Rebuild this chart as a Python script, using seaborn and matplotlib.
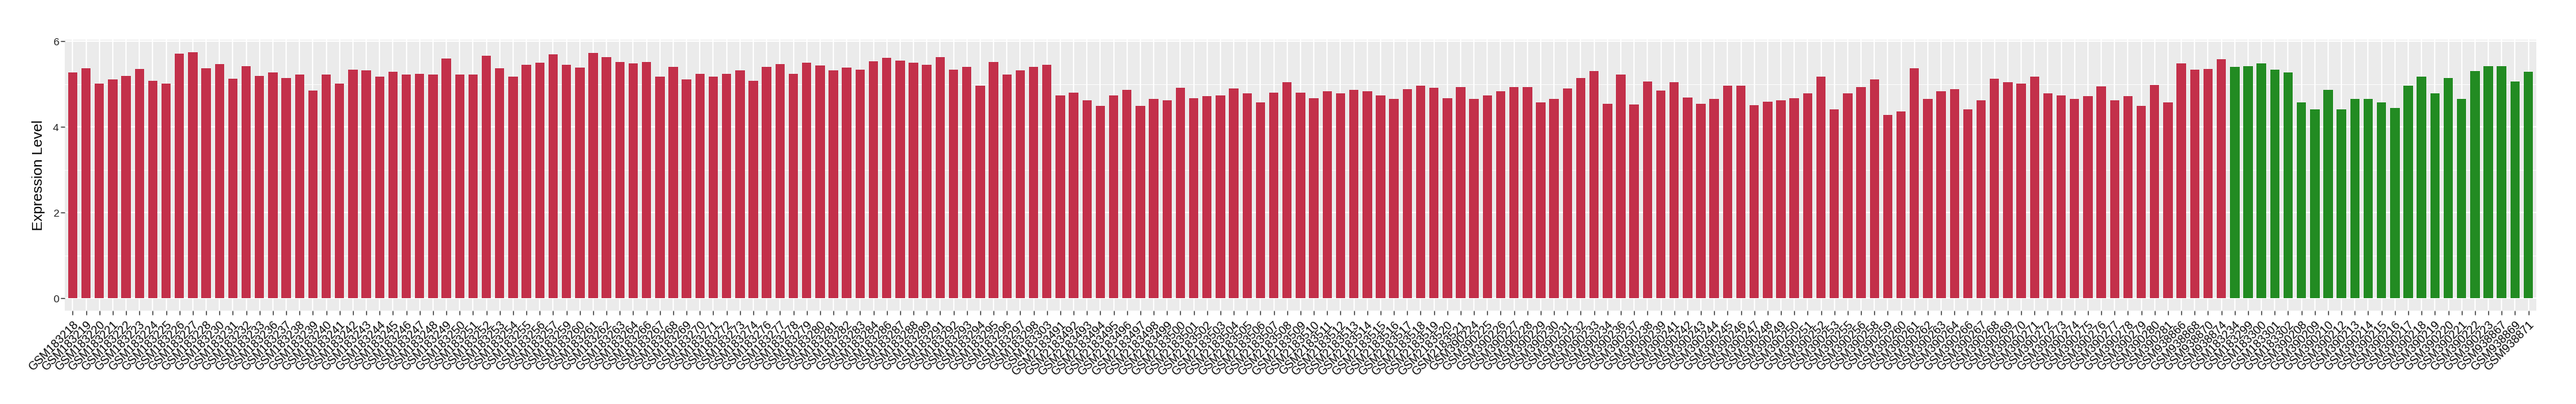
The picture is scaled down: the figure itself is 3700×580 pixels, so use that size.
import pandas as pd
import seaborn as sns
import matplotlib.pyplot as plt

# sample ids
red_ids = (
    ["GSM1832" + s for s in ["18", "19", "20", "21", "22", "23", "24", "25", "26", "27", "28",
                             "30", "31", "32", "33", "36", "37", "38", "39", "40", "41", "42",
                             "43", "44", "45", "46", "47", "48", "49", "50", "51", "52", "53",
                             "54", "55", "56", "57", "59", "60", "61", "62", "63", "64", "66",
                             "67", "68", "69", "70", "71", "72", "73", "74", "76", "77", "78",
                             "79", "80", "81", "82", "83", "84", "86", "87", "88", "89", "91",
                             "92", "93", "94", "95", "96", "97", "98"]]
    + ["GSM183303"]
    + ["GSM21834" + s for s in ["91", "92", "93", "94", "95", "96", "97", "98", "99"]]
    + ["GSM21835" + s for s in ["00", "01", "02", "03", "04", "05", "06", "07", "08", "09", "10",
                                "11", "12", "13", "14", "15", "16", "17", "18", "19", "20", "21"]]
    + ["GSM3902" + s for s in ["24", "25", "26", "27", "28", "29", "30", "31", "32", "33", "34",
                               "36", "37", "38", "39", "41", "42", "43", "44", "45", "46", "47",
                               "48", "49", "50", "51", "52", "53", "55", "56", "58", "59", "60",
                               "61", "62", "63", "64", "66", "67", "68", "69", "70", "71", "72",
                               "73", "74", "75", "76", "77", "78", "79", "80", "81"]]
    + ["GSM938866", "GSM938868", "GSM938870", "GSM938874"]
)
green_ids = ["GSM183234", "GSM183299", "GSM183300", "GSM183301", "GSM183302",
             "GSM390208", "GSM390209", "GSM390210", "GSM390212", "GSM390213", "GSM390214",
             "GSM390215", "GSM390216", "GSM390217", "GSM390218", "GSM390219", "GSM390220",
             "GSM390221", "GSM390222", "GSM390223", "GSM938867", "GSM938869", "GSM938871"]

red_values = [
    5.28, 5.38, 5.02, 5.12, 5.20, 5.36, 5.08, 5.01, 5.72, 5.75, 5.38,
    5.47, 5.13, 5.43, 5.20, 5.28, 5.15, 5.22, 4.86, 5.22, 5.02, 5.34,
    5.33, 5.18, 5.29, 5.22, 5.25, 5.22, 5.60, 5.23, 5.22, 5.66, 5.38,
    5.18, 5.46, 5.50, 5.70, 5.46, 5.39, 5.73, 5.63, 5.52, 5.49, 5.52,
    5.17, 5.41, 5.12, 5.25, 5.17, 5.25, 5.33, 5.08, 5.41, 5.47, 5.25,
    5.50, 5.44, 5.33, 5.39, 5.34, 5.54, 5.62, 5.56, 5.50, 5.46, 5.63,
    5.34, 5.41, 4.97, 5.52, 5.23, 5.33, 5.41,
    5.46,
    4.74, 4.81, 4.62, 4.50, 4.74, 4.87, 4.49, 4.65, 4.63,
    4.92, 4.68, 4.73, 4.74, 4.90, 4.78, 4.57, 4.81, 5.05, 4.81, 4.68,
    4.84, 4.79, 4.87, 4.84, 4.74, 4.66, 4.89, 4.97, 4.92, 4.68, 4.94,
    4.66, 4.74, 4.84, 4.94, 4.94, 4.57, 4.65, 4.90, 5.15, 5.31, 4.55,
    5.22, 4.53, 5.07, 4.86, 5.04, 4.69, 4.55, 4.66, 4.97, 4.97, 4.51,
    4.60, 4.62, 4.68, 4.78, 5.17, 4.42, 4.79, 4.94, 5.12, 4.28, 4.37,
    5.38, 4.66, 4.83, 4.89, 4.41, 4.63, 5.13, 5.04, 5.02, 5.18, 4.79,
    4.74, 4.65, 4.73, 4.95, 4.63, 4.73, 4.50, 4.99, 4.57,
    5.49, 5.34, 5.36, 5.59,
]
green_values = [5.41, 5.43, 5.49, 5.34, 5.28,
                4.57, 4.42, 4.87, 4.42, 4.66, 4.66,
                4.57, 4.44, 4.97, 5.18, 4.78, 5.15,
                4.66, 5.31, 5.43, 5.43, 5.07, 5.29]

df = pd.DataFrame({
    "sample": red_ids + green_ids,
    "value": red_values + green_values,
    "group": ["red"] * len(red_ids) + ["green"] * len(green_ids),
})
n = len(df)

plt.rcParams["font.family"] = ["Liberation Sans", "DejaVu Sans"]

fig = plt.figure(figsize=(37, 5.8), dpi=100)
ax = fig.add_axes([0.0251, 0.231, 0.9595, 0.6707])
ax.set_facecolor("#EBEBEB")

sns.barplot(data=df, x="sample", y="value", hue="group", order=df["sample"],
            palette={"red": "#C3304A", "green": "#228B22"}, width=0.7,
            saturation=1, dodge=False, legend=False, ax=ax, zorder=3)

ax.set_xlim(-0.6, n - 0.4)
ax.set_ylim(-0.29, 6.04)
ax.set_yticks([0, 2, 4, 6])
ax.set_yticks([1, 3, 5], minor=True)
ax.set_axisbelow(True)
ax.grid(which="major", color="white", linewidth=1.3)
ax.grid(which="minor", axis="y", color="white", linewidth=0.6)
for s in ax.spines.values():
    s.set_visible(False)

ax.tick_params(which="major", color="#333333", length=4, width=1, pad=2)
ax.tick_params(which="minor", length=0)
ax.tick_params(axis="y", labelsize=11, labelcolor="#222222")
ax.tick_params(axis="x", pad=5)
ax.set_xticks(range(n))
ax.set_xticklabels(df["sample"], rotation=45, ha="right", va="top",
                   rotation_mode="anchor", fontsize=12, color="black")

ax.set_xlabel("")
ax.set_ylabel("Expression Level", fontsize=15, labelpad=8)

fig.savefig("out.png", dpi=100)
